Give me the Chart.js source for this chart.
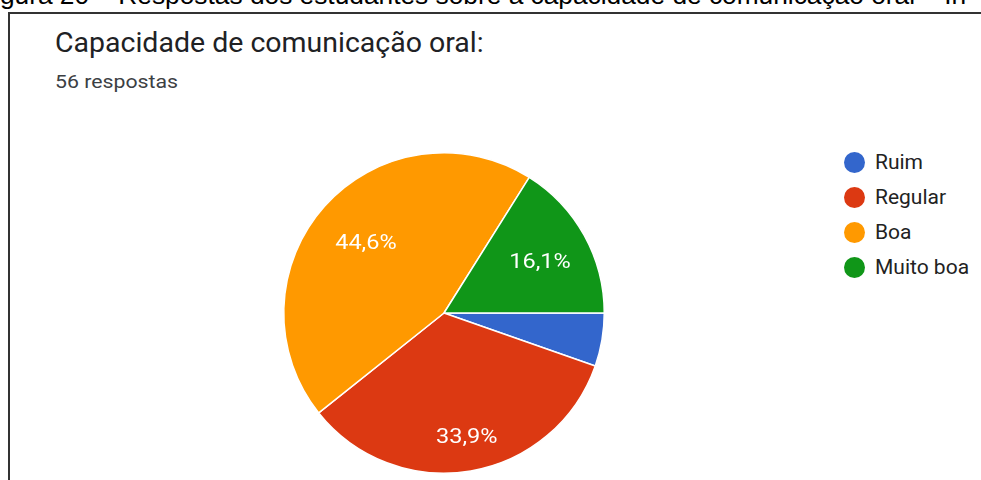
<!DOCTYPE html>
<html>
<head>
<meta charset="utf-8">
<script src="https://cdn.jsdelivr.net/npm/chart.js@4/dist/chart.umd.min.js"></script>
<style>
  html, body { margin: 0; padding: 0; background: #fff; }
  body { width: 981px; height: 480px; position: relative; overflow: hidden; }
  .legenda-fig { position: absolute; left: -22px; top: -17.8px; font-family: "Liberation Sans", Arial, sans-serif; font-size: 26.3px; line-height: 26.3px; color: #000; white-space: nowrap; }
  .caixa { position: absolute; left: 8px; top: 12px; width: 1000px; height: 500px; border-left: 2px solid #333; border-top: 2px solid #333; }
  .titulo { position: absolute; left: 55px; top: 26.5px; font-family: Roboto, sans-serif; font-size: 27px; line-height: 32px; color: #202124; white-space: nowrap; transform: scaleX(1.055); transform-origin: left; }
  .respostas { position: absolute; left: 55px; top: 70px; font-family: Roboto, sans-serif; font-size: 19px; line-height: 24px; color: #3c4043; white-space: nowrap; transform: scaleX(1.12); transform-origin: left; }
  .legenda { position: absolute; left: 844px; top: 151px; font-family: Roboto, sans-serif; font-size: 20px; color: #222; }
  .item { height: 35px; display: flex; align-items: flex-start; white-space: nowrap; }
  .bola { width: 21px; height: 21px; border-radius: 50%; margin-right: 10px; margin-top: 1px; }
  .item span { line-height: 23px; display: inline-block; transform: scaleX(1.05); transform-origin: left; }
  canvas { position: absolute; left: 0; top: 0; }
</style>
</head>
<body>
<div class="legenda-fig">Figura 20 – Respostas dos estudantes sobre a capacidade de comunicação oral – In</div>
<div class="caixa"></div>
<div class="titulo">Capacidade de comunicação oral:</div>
<div class="respostas">56 respostas</div>
<div class="legenda"></div>
<canvas id="myChart" width="981" height="480"></canvas>
<script>
const categorias = ['Ruim', 'Regular', 'Boa', 'Muito boa'];
const respostas = [3, 19, 25, 9];
const rotulos = ['', '33,9%', '44,6%', '16,1%'];
const cores = ['#3366cc', '#dc3912', '#ff9900', '#109618'];

// legenda em html, igual ao google forms
const legenda = document.querySelector('.legenda');
categorias.forEach((c, i) => {
    const item = document.createElement('div');
    item.className = 'item';
    item.innerHTML = `<div class="bola" style="background:${cores[i]}"></div><span>${c}</span>`;
    legenda.append(item);
});

// escreve as porcentagens dentro das fatias
const rotulosPlugin = {
    id: 'rotulos',
    afterDatasetsDraw(chart) {
        const ctx = chart.ctx;
        const arcos = chart.getDatasetMeta(0).data;
        arcos.forEach((a, i) => {
            if (!rotulos[i]) return;
            const meio = (a.startAngle + a.endAngle) / 2;
            // o google empurra um pouco pra fora os rotulos de baixo
            const r = a.outerRadius * 0.67 + 17 * Math.max(0, Math.sin(meio));
            ctx.save();
            ctx.translate(a.x + Math.cos(meio) * r + 2, a.y + Math.sin(meio) * r + 2);
            ctx.scale(1.12, 1);
            ctx.fillStyle = '#fff';
            ctx.font = '21px Roboto';
            ctx.textAlign = 'center';
            ctx.textBaseline = 'middle';
            ctx.fillText(rotulos[i], 0, 0);
            ctx.restore();
        });
    }
};

const data = {
    labels: categorias,
    datasets: [{
        data: respostas,
        backgroundColor: cores,
        borderColor: '#fff',
        borderWidth: 1.5,
        hoverOffset: 0
    }]
};

const config = {
    type: 'pie',
    data,
    options: {
        responsive: false,
        animation: false,
        rotation: 90,
        layout: {
            padding: { left: 283, top: 152, right: 376, bottom: 6 }
        },
        plugins: {
            legend: { display: false },
            tooltip: { enabled: false }
        }
    },
    plugins: [rotulosPlugin]
};

const myChart = new Chart(document.getElementById('myChart'), config);
</script>
</body>
</html>
